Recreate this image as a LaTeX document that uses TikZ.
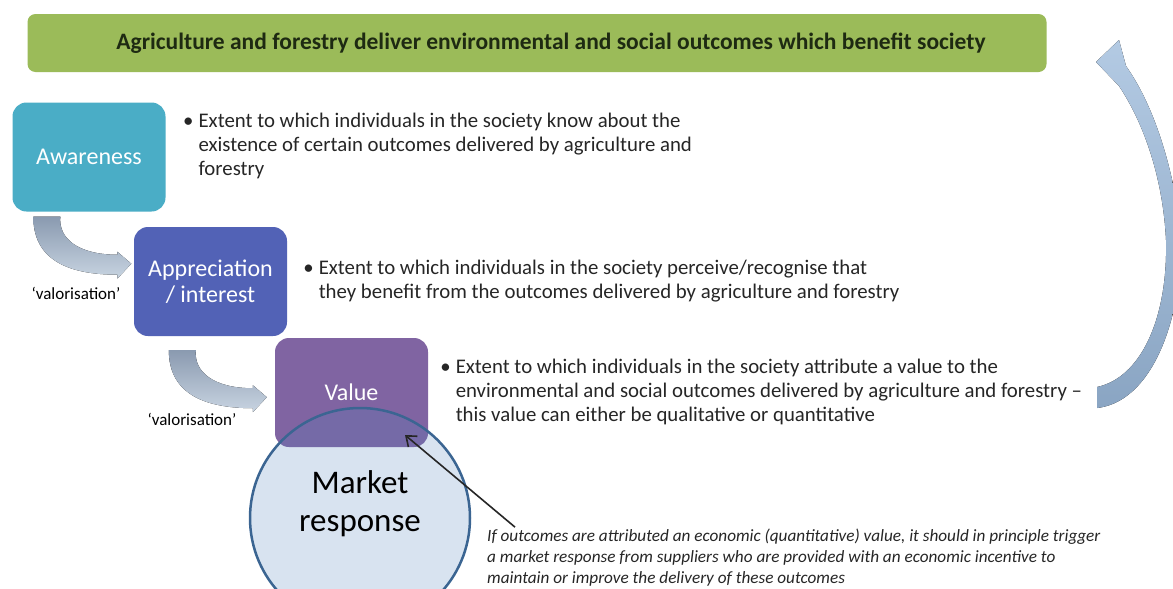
\documentclass[tikz,border=0pt]{standalone}
\usepackage{fontspec}
\setmainfont{Carlito}
\usepackage{tikz}
\usetikzlibrary{arrows.meta,positioning,calc}
\usepackage{xcolor}
\definecolor{BannerGreen}{HTML}{9BBB59}
\definecolor{BannerText}{HTML}{1E2A12}
\definecolor{AwareTeal}{HTML}{4AADC6}
\definecolor{ApprecBlue}{HTML}{5262B6}
\definecolor{ValuePurple}{HTML}{8064A2}
\definecolor{MarketFill}{HTML}{4F81BD}
\definecolor{MarketLine}{HTML}{3B6592}
\definecolor{BandDark}{HTML}{8A9AB0}
\definecolor{BandLight}{HTML}{C8D4E1}
\definecolor{LoopLight}{HTML}{B3CAE3}
\definecolor{LoopDark}{HTML}{8AA5C3}
\definecolor{TextMain}{HTML}{262626}
\tikzset{
  bannerbox/.style={fill=BannerGreen,rounded corners=8pt,minimum width=1019pt,minimum height=58pt,text=BannerText,font=\fontsize{23.5}{26}\selectfont\bfseries},
  stagebox/.style={rounded corners=14pt,minimum width=153pt,minimum height=109pt,align=center,text=white,font=\fontsize{24}{26}\selectfont,inner sep=0pt},
  desctext/.style={anchor=west,align=left,text=TextMain,font=\fontsize{20.8}{24}\selectfont,inner sep=0pt},
  valorlabel/.style={font=\fontsize{17}{19}\selectfont,text=black,inner sep=0pt},
  notetext/.style={anchor=west,align=left,text=TextMain,font=\fontsize{17.2}{21}\selectfont\itshape,inner sep=0pt},
  marketcircle/.style={circle,minimum size=220pt,draw=MarketLine,line width=2.5pt,fill=MarketFill,fill opacity=0.22,inner sep=0pt},
  marketlabel/.style={align=center,font=\fontsize{33}{38}\selectfont,text=black},
  valorband/.style={top color=BandDark,bottom color=BandLight},
  loopband/.style={top color=LoopLight,bottom color=LoopDark},
  notearrow/.style={-{Straight Barb[length=9pt,width=14pt]},line width=1.6pt,draw=black!85}
}
\begin{document}
\begin{tikzpicture}[x=1pt,y=-1pt]
\fill[white] (0,0) rectangle (1173,589);
\useasboundingbox (0,0) rectangle (1173,589);
% banner
\node[bannerbox] (banner) at (537,43) {\hspace{28pt}Agriculture and forestry deliver environmental and social outcomes which benefit society};
% stages
\node[stagebox,fill=AwareTeal] (awareness) at (89,157) {Awareness};
\node[stagebox,fill=ApprecBlue] (appreciation) at (210.5,281.5) {Appreciation\\/ interest};
\node[stagebox,fill=ValuePurple] (value) at (351.5,392.5) {Value};
% descriptions
\node[desctext] (desc1) at (183,147) {\begin{tabular}{@{}l@{\hspace{5pt}}l@{}}\textbullet & Extent to which individuals in the society know about the\\ & existence of certain outcomes delivered by agriculture and\\ & forestry\end{tabular}};
\node[desctext,right=16pt of appreciation] (desc2) {\begin{tabular}{@{}l@{\hspace{5pt}}l@{}}\textbullet & Extent to which individuals in the society perceive/recognise that\\ & they benefit from the outcomes delivered by agriculture and forestry\end{tabular}};
\node[desctext,right=12pt of value] (desc3) {\begin{tabular}{@{}l@{\hspace{5pt}}l@{}}\textbullet & Extent to which individuals in the society attribute a value to the\\ & environmental and social outcomes delivered by agriculture and forestry --\\ & this value can either be qualitative or quantitative\end{tabular}};
% valorisation arrows
\coordinate (val1) at ($(awareness.south west)+(21,5)$);
\coordinate (val2) at ($(appreciation.south west)+(35,14)$);
\foreach \v in {val1,val2}{
  \fill[valorband,shift={(\v)}] (0,0) -- (27,0) .. controls (25,22) and (45,38) .. (84,38)
    -- (84,35) -- (98,47) -- (84,62) -- (84,58) .. controls (30,58) and (0,40) .. (0,0) -- cycle;
}
\node[valorlabel] (valor1) at (76,293) {‘valorisation’};
\node[valorlabel] (valor2) at (192,419) {‘valorisation’};
% market response
\node[marketcircle] (market) at (360,518) {};
\node[marketlabel] (marketname) at ([yshift=14pt]market.center) {Market\\response};
% note
\node[notetext] (note) at (487,558) {If outcomes are attributed an economic (quantitative) value, it should in principle trigger\\a market response from suppliers who are provided with an economic incentive to\\maintain or improve the delivery of these outcomes};
\coordinate (pin) at (405,435);
\draw[notearrow] ($(note.north west)+(28,-2)$) -- (pin);
% loop back to banner
\fill[loopband] (1097,408) .. controls (1165,400) and (1190,280) .. (1178,210)
  .. controls (1168,150) and (1150,100) .. (1126,66) -- (1119,40) -- (1096,62) -- (1119,86)
  .. controls (1145,125) and (1163,180) .. (1166,240)
  .. controls (1168,320) and (1140,378) .. (1097,387) -- cycle;
\end{tikzpicture}
\end{document}
